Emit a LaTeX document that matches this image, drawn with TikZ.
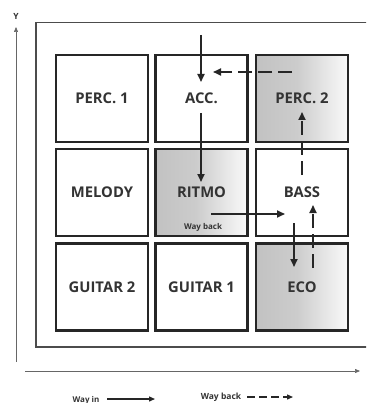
\documentclass[tikz,border=0pt]{standalone}
\usepackage{fontspec}
\setmainfont{Open Sans}
\usetikzlibrary{arrows.meta}
\pgfdeclarehorizontalshading{cellgrad}{100bp}{color(0bp)=(black!24); color(25bp)=(black!24); color(47bp)=(black!20); color(75bp)=(black!2); color(100bp)=(black!2)}
\begin{document}
\begin{tikzpicture}[x=1pt,y=-1pt,
  cell/.style={draw=black!85, line width=2.6pt, minimum width=92pt, minimum height=87pt, inner sep=0pt,
    font=\bfseries\fontsize{14.8}{17}\selectfont, text=black!80},
  graded/.style={shade, shading=cellgrad},
  flow/.style={line width=1.8pt, draw=black!85, -{Triangle[length=8pt,width=7pt]}},
  back/.style={flow, dash pattern=on 14pt off 6pt},
  legflow/.style={line width=1.3pt, draw=black!85, -{Triangle[length=6pt,width=5pt]}},
  legback/.style={legflow, dash pattern=on 8pt off 4pt},
  axisline/.style={line width=0.6pt, draw=black!60, -{Triangle[length=5pt,width=4pt]}},
  frame/.style={line width=1.4pt, draw=black!70},
  small/.style={font=\bfseries\fontsize{8}{9}\selectfont, text=black!80, inner sep=0pt}]
\clip (0,0) rectangle (366,403);
\useasboundingbox (0,0) rectangle (366,403);

% outer frame
\draw[frame] (36,22.5) rectangle (370,347);

% axes
\coordinate (ybot) at (16,362);
\coordinate (ytop) at (16,27);
\draw[axisline] (ybot) -- (ytop);
\node[small, font=\bfseries\fontsize{8.5}{10}\selectfont] (ylab) at (16,16) {Y};
\coordinate (xl) at (25,371);
\coordinate (xr) at (360,371);
\draw[axisline] (xl) -- (xr);

% cells
\node[cell] (perc1) at (102,98.5) {PERC. 1};
\node[cell] (acc) at (201.5,98.5) {ACC.};
\node[cell, graded] (perc2) at (302,98.5) {PERC. 2};
\node[cell] (melody) at (102,192.5) {MELODY};
\node[cell, graded] (ritmo) at (201.5,192.5) {RITMO};
\node[cell] (bass) at (302,192.5) {BASS};
\node[cell] (guitar2) at (102,287) {GUITAR 2};
\node[cell] (guitar1) at (201.5,287) {GUITAR 1};
\node[cell, graded] (eco) at (302,287) {ECO};

\node[small] (wb) at (203,227) {Way back};

% flow coordinates
\coordinate (a1s) at (201,35);   \coordinate (a1e) at (201,82);
\coordinate (b1s) at (292,72);   \coordinate (b1e) at (213,72);
\coordinate (a2s) at (201,113);  \coordinate (a2e) at (201,182);
\coordinate (b2s) at (302,175);  \coordinate (b2e) at (302,112);
\coordinate (a3s) at (211,214);  \coordinate (a3e) at (285,214);
\coordinate (a4s) at (294,223);  \coordinate (a4e) at (294,267);
\coordinate (b3s) at (313,268);  \coordinate (b3e) at (313,205);

\draw[flow] (a1s) -- (a1e);
\draw[back] (b1s) -- (b1e);
\draw[flow] (a2s) -- (a2e);
\draw[back] (b2s) -- (b2e);
\draw[flow] (a3s) -- (a3e);
\draw[flow] (a4s) -- (a4e);
\draw[back] (b3s) -- (b3e);

% legend
\node[small] (win) at (86,400) {Way in};
\coordinate (l1s) at (107,399); \coordinate (l1e) at (155,399);
\draw[legflow] (l1s) -- (l1e);
\node[small, font=\bfseries\fontsize{8.5}{10}\selectfont] (wbk) at (221,397) {Way back};
\coordinate (l2s) at (247,397); \coordinate (l2e) at (293,397);
\draw[legback] (l2s) -- (l2e);
\end{tikzpicture}
\end{document}
